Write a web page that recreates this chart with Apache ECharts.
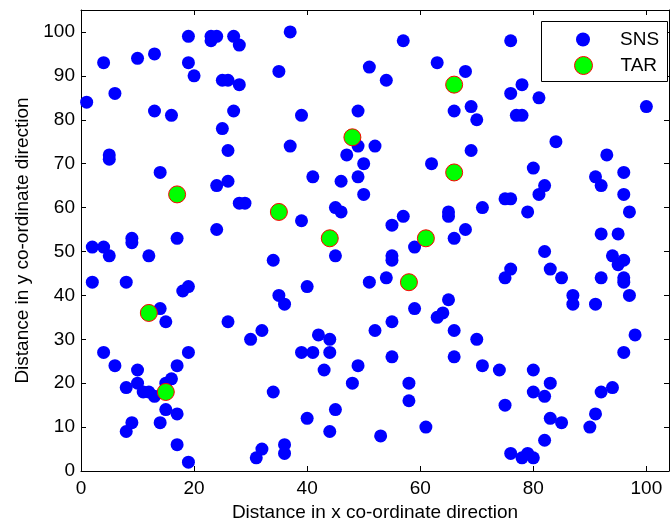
<!DOCTYPE html>
<html><head><meta charset="utf-8">
<script src="https://cdn.jsdelivr.net/npm/echarts@6/dist/echarts.min.js"></script>
<style>html,body{margin:0;padding:0;background:#fff}#c{width:670px;height:527px}</style>
</head><body><div id="c"></div>
<script>
// SNS sensor nodes
const snsX = [1,4,6,5,5,10,13,13,16,14,19,19,20,23,23,24,27,28,25,26,28,27,25,26,35,37,57,51,54,63,68,69,66,70,39,49,49,52,47,50,37,41,46,49,62,69,76,78,76,81,77,78,100,84,93,80,96,91,92,82,
24,26,28,29,24,9,9,17,2,4,5,12,34,2,8,18,19,35,14,15,26,50,39,45,46,45,55,57,59,55,55,65,65,68,66,71,51,54,40,36,59,65,63,64,55,32,52,66,
96,97,81,75,76,79,92,95,82,94,95,96,76,75,83,85,92,96,96,97,87,87,91,
30,4,6,10,8,10,11,12,13,15,16,17,19,15,17,14,9,8,17,19,34,31,32,42,44,39,41,44,43,49,48,55,58,58,70,66,71,45,40,44,53,61,36,36,
74,80,83,80,82,75,83,85,82,76,78,79,80,90,91,92,94,96,98];
const snsY = [84,93,86,72,71,94,95,82,81,68,99,93,90,99,98,99,99,97,89,89,88,82,78,73,91,100,98,92,89,93,91,83,82,80,81,82,74,74,72,70,74,67,66,67,70,73,98,88,86,85,81,81,83,75,72,69,68,67,65,65,
65,66,61,61,55,53,52,53,51,51,49,49,48,43,43,41,42,40,37,34,34,63,57,60,59,49,56,58,51,49,48,59,58,55,53,60,43,44,42,38,37,39,35,36,34,32,32,32,
63,59,63,62,62,59,54,54,50,49,47,48,46,44,46,44,44,44,43,40,40,38,38,
30,27,24,23,19,20,18,18,17,20,21,24,27,14,13,11,11,9,6,2,18,3,5,31,30,27,27,27,23,24,20,26,20,16,30,26,24,14,12,9,8,10,6,4,
23,23,20,18,17,15,12,11,7,4,3,4,3,10,13,18,19,27,31];
// TAR targets
const tarX = [17,35,48,66,66,44,61,58,12,15];
const tarY = [63,59,76,88,68,53,53,43,36,18];
const xTickInterval = 20;
const yTickInterval = 10;
const xName = 'Distance in x co-ordinate direction';
const yName = 'Distance in y co-ordinate direction';

const sns = snsX.map((x, i) => [x, snsY[i]]);
const tar = tarX.map((x, i) => [x, tarY[i]]);

const FONT = '"Liberation Sans", Arial, sans-serif';
const chart = echarts.init(document.getElementById('c'), null, {renderer: 'canvas'});
const lineStyle = {color: '#000', width: 1};
function axis(pos, main, max, interval) {
  const a = {
    type: 'value', position: pos, min: 0, max: max, interval: interval,
    axisLine: {show: true, onZero: false, lineStyle: lineStyle},
    axisTick: {show: true, inside: true, length: 5, lineStyle: lineStyle},
    splitLine: {show: false},
    axisLabel: {show: main, color: '#000', fontSize: 19, fontFamily: FONT, showMaxLabel: false}
  };
  return a;
}
const xa = axis('bottom', true, 104, xTickInterval);
xa.axisLabel.margin = 8;
xa.name = xName; xa.nameLocation = 'middle'; xa.nameGap = 32;
xa.nameTextStyle = {color: '#000', fontSize: 19, fontFamily: FONT};
const ya = axis('left', true, 105, yTickInterval);
ya.axisLabel.margin = 6;
ya.name = yName; ya.nameLocation = 'middle'; ya.nameGap = 49;
ya.nameTextStyle = {color: '#000', fontSize: 19, fontFamily: FONT};

chart.setOption({
  animation: false,
  backgroundColor: '#fff',
  grid: {left: 81, right: 1, top: 10, bottom: 55, containLabel: false},
  xAxis: [xa, axis('top', false, 104, xTickInterval)],
  yAxis: [ya, axis('right', false, 105, yTickInterval)],
  graphic: [{
    type: 'rect', z: 10,
    shape: {x: 541.5, y: 21.5, width: 126, height: 60},
    style: {fill: '#fff', stroke: '#000', lineWidth: 1}
  }],
  legend: [
    {data: ['SNS'], left: 571, top: 25, itemWidth: 64, itemHeight: 14, z: 20, selectedMode: false,
     textStyle: {color: '#000', fontSize: 19, fontFamily: FONT}},
    {data: ['TAR'], left: 569, top: 51, itemWidth: 64, itemHeight: 18, z: 20, selectedMode: false,
     itemStyle: {borderWidth: 1},
     textStyle: {color: '#000', fontSize: 19, fontFamily: FONT}}
  ],
  series: [
    {name: 'SNS', type: 'scatter', data: sns, symbol: 'circle', symbolSize: 13,
     itemStyle: {color: '#0000ff', opacity: 1}, emphasis: {disabled: true}},
    {name: 'TAR', type: 'scatter', data: tar, symbol: 'circle', symbolSize: 17,
     itemStyle: {color: '#00ff00', borderColor: '#ff0000', borderWidth: 1, opacity: 1}, emphasis: {disabled: true}}
  ]
});
</script>
</body></html>
